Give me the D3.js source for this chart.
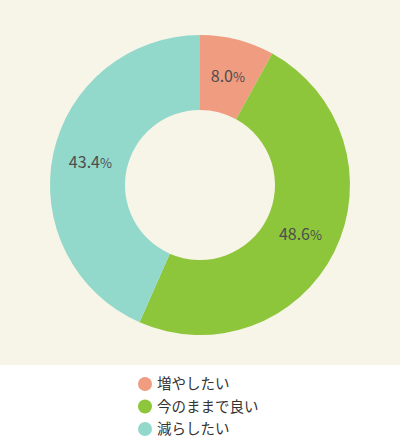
<!DOCTYPE html>
<html>
<head>
<meta charset="utf-8">
<script src="https://cdn.jsdelivr.net/npm/d3@7"></script>
<style>
  body { margin: 0; background: #fff; }
  svg { display: block; font-family: "Noto Sans CJK JP", "Noto Sans", sans-serif; }
</style>
</head>
<body>
<div id="chart"></div>
<script>
// Chart data
const categories = ["増やしたい", "今のままで良い", "減らしたい"];
const values = [8.0, 48.6, 43.4];
const colors = ["#ef9c80", "#8ec63b", "#92d9cc"];

const width = 400;
const height = 445;

const svg = d3.select("#chart").append("svg")
  .attr("width", width)
  .attr("height", height);

// Beige panel behind the donut
svg.append("rect")
  .attr("width", width)
  .attr("height", 365)
  .attr("fill", "#f7f4e8");

const g = svg.append("g").attr("transform", "translate(200,185)");

const pie = d3.pie().sort(null).value(d => d);
const arc = d3.arc().innerRadius(75).outerRadius(150);
const labelArc = d3.arc().innerRadius(112).outerRadius(112);

const arcs = pie(values);

g.selectAll("path")
  .data(arcs)
  .enter()
  .append("path")
  .attr("d", arc)
  .attr("fill", (d, i) => colors[i]);

// Percent labels
const labels = g.selectAll("text.lbl")
  .data(arcs)
  .enter()
  .append("text")
  .attr("class", "lbl")
  .attr("transform", d => `translate(${labelArc.centroid(d)})`)
  .attr("text-anchor", "middle")
  .attr("dy", "0.35em")
  .attr("fill", "#4d4d4d")
  .style("font-size", "16px");

labels.append("tspan").text(d => d.data.toFixed(1));
labels.append("tspan").style("font-size", "13px").text("%");

// Legend
const legend = svg.selectAll("g.legend")
  .data(categories)
  .enter()
  .append("g")
  .attr("class", "legend")
  .attr("transform", (d, i) => `translate(145,${384 + i * 22.5})`);

legend.append("circle")
  .attr("r", 7)
  .attr("fill", (d, i) => colors[i]);

legend.append("text")
  .attr("x", 12)
  .attr("dy", "0.35em")
  .attr("fill", "#333")
  .style("font-size", "14.5px")
  .text(d => d);
</script>
</body>
</html>
